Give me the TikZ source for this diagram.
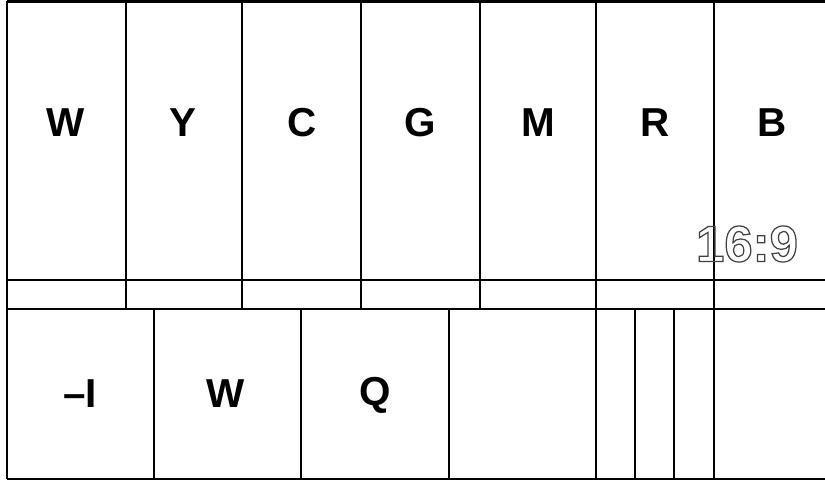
\documentclass[tikz,border=0pt]{standalone}
\usepackage{fontspec}
\setmainfont{Liberation Sans}

\newcommand{\outlinetext}[1]{%
    \special{pdf:literal direct 1 Tr 0.7 w}#1\special{pdf:literal direct 0 Tr}}

\tikzset{
    barlabel/.style={font=\bfseries\fontsize{23}{23}\selectfont},
    ratiolabel/.style={font=\bfseries\fontsize{29}{29}\selectfont, text=black!75},
}

\begin{document}
\begin{tikzpicture}
    \useasboundingbox (0,0) rectangle (16.5,-9.7);

    % upper bars
    \draw [line width=1.3pt]
        (0.14,-0.03) -- (16.5,-0.03)
        (0.14,-0.03) -- (0.14,-5.6)
        (2.52,-0.03) -- (2.52,-6.18)
        (4.84,-0.03) -- (4.84,-6.18)
        (7.22,-0.03) -- (7.22,-6.18)
        (9.6,-0.03) -- (9.6,-6.18)
        (11.92,-0.03) -- (11.92,-6.18)
        (14.28,-0.03) -- (14.28,-6.18)
        ;

    \draw [line width=1pt]
        (0.14,-5.6) -- (16.5,-5.6)
        ;

    % lower bars
    \draw [line width=1.3pt]
        (0.14,-5.6) -- (0.14,-9.58)
        (0.14,-6.18) -- (16.5,-6.18)
        (0.14,-9.58) -- (16.5,-9.58)
        (3.08,-6.18) -- (3.08,-9.58)
        (6.02,-6.18) -- (6.02,-9.58)
        (8.98,-6.18) -- (8.98,-9.58)
        (11.92,-6.18) -- (11.92,-9.58)
        (12.7,-6.18) -- (12.7,-9.58)
        (13.48,-6.18) -- (13.48,-9.58)
        (14.28,-6.18) -- (14.28,-9.58)
        ;

    \node [barlabel] (white) at (1.32,-2.46) {W};
    \node [barlabel] (yellow) at (3.66,-2.46) {Y};
    \node [barlabel] (cyan) at (6.04,-2.46) {C};
    \node [barlabel] (green) at (8.4,-2.46) {G};
    \node [barlabel] (magenta) at (10.76,-2.46) {M};
    \node [barlabel] (red) at (13.1,-2.46) {R};
    \node [barlabel] (blue) at (15.44,-2.46) {B};

    \node [barlabel] (minusi) at (1.6,-7.88) {--I};
    \node [barlabel] (white2) at (4.52,-7.88) {W};
    \node [barlabel] (qsig) at (7.5,-7.9) {Q};

    \node [ratiolabel] (ratio) at (14.94,-4.88) {\outlinetext{16:9}};
\end{tikzpicture}
\end{document}
